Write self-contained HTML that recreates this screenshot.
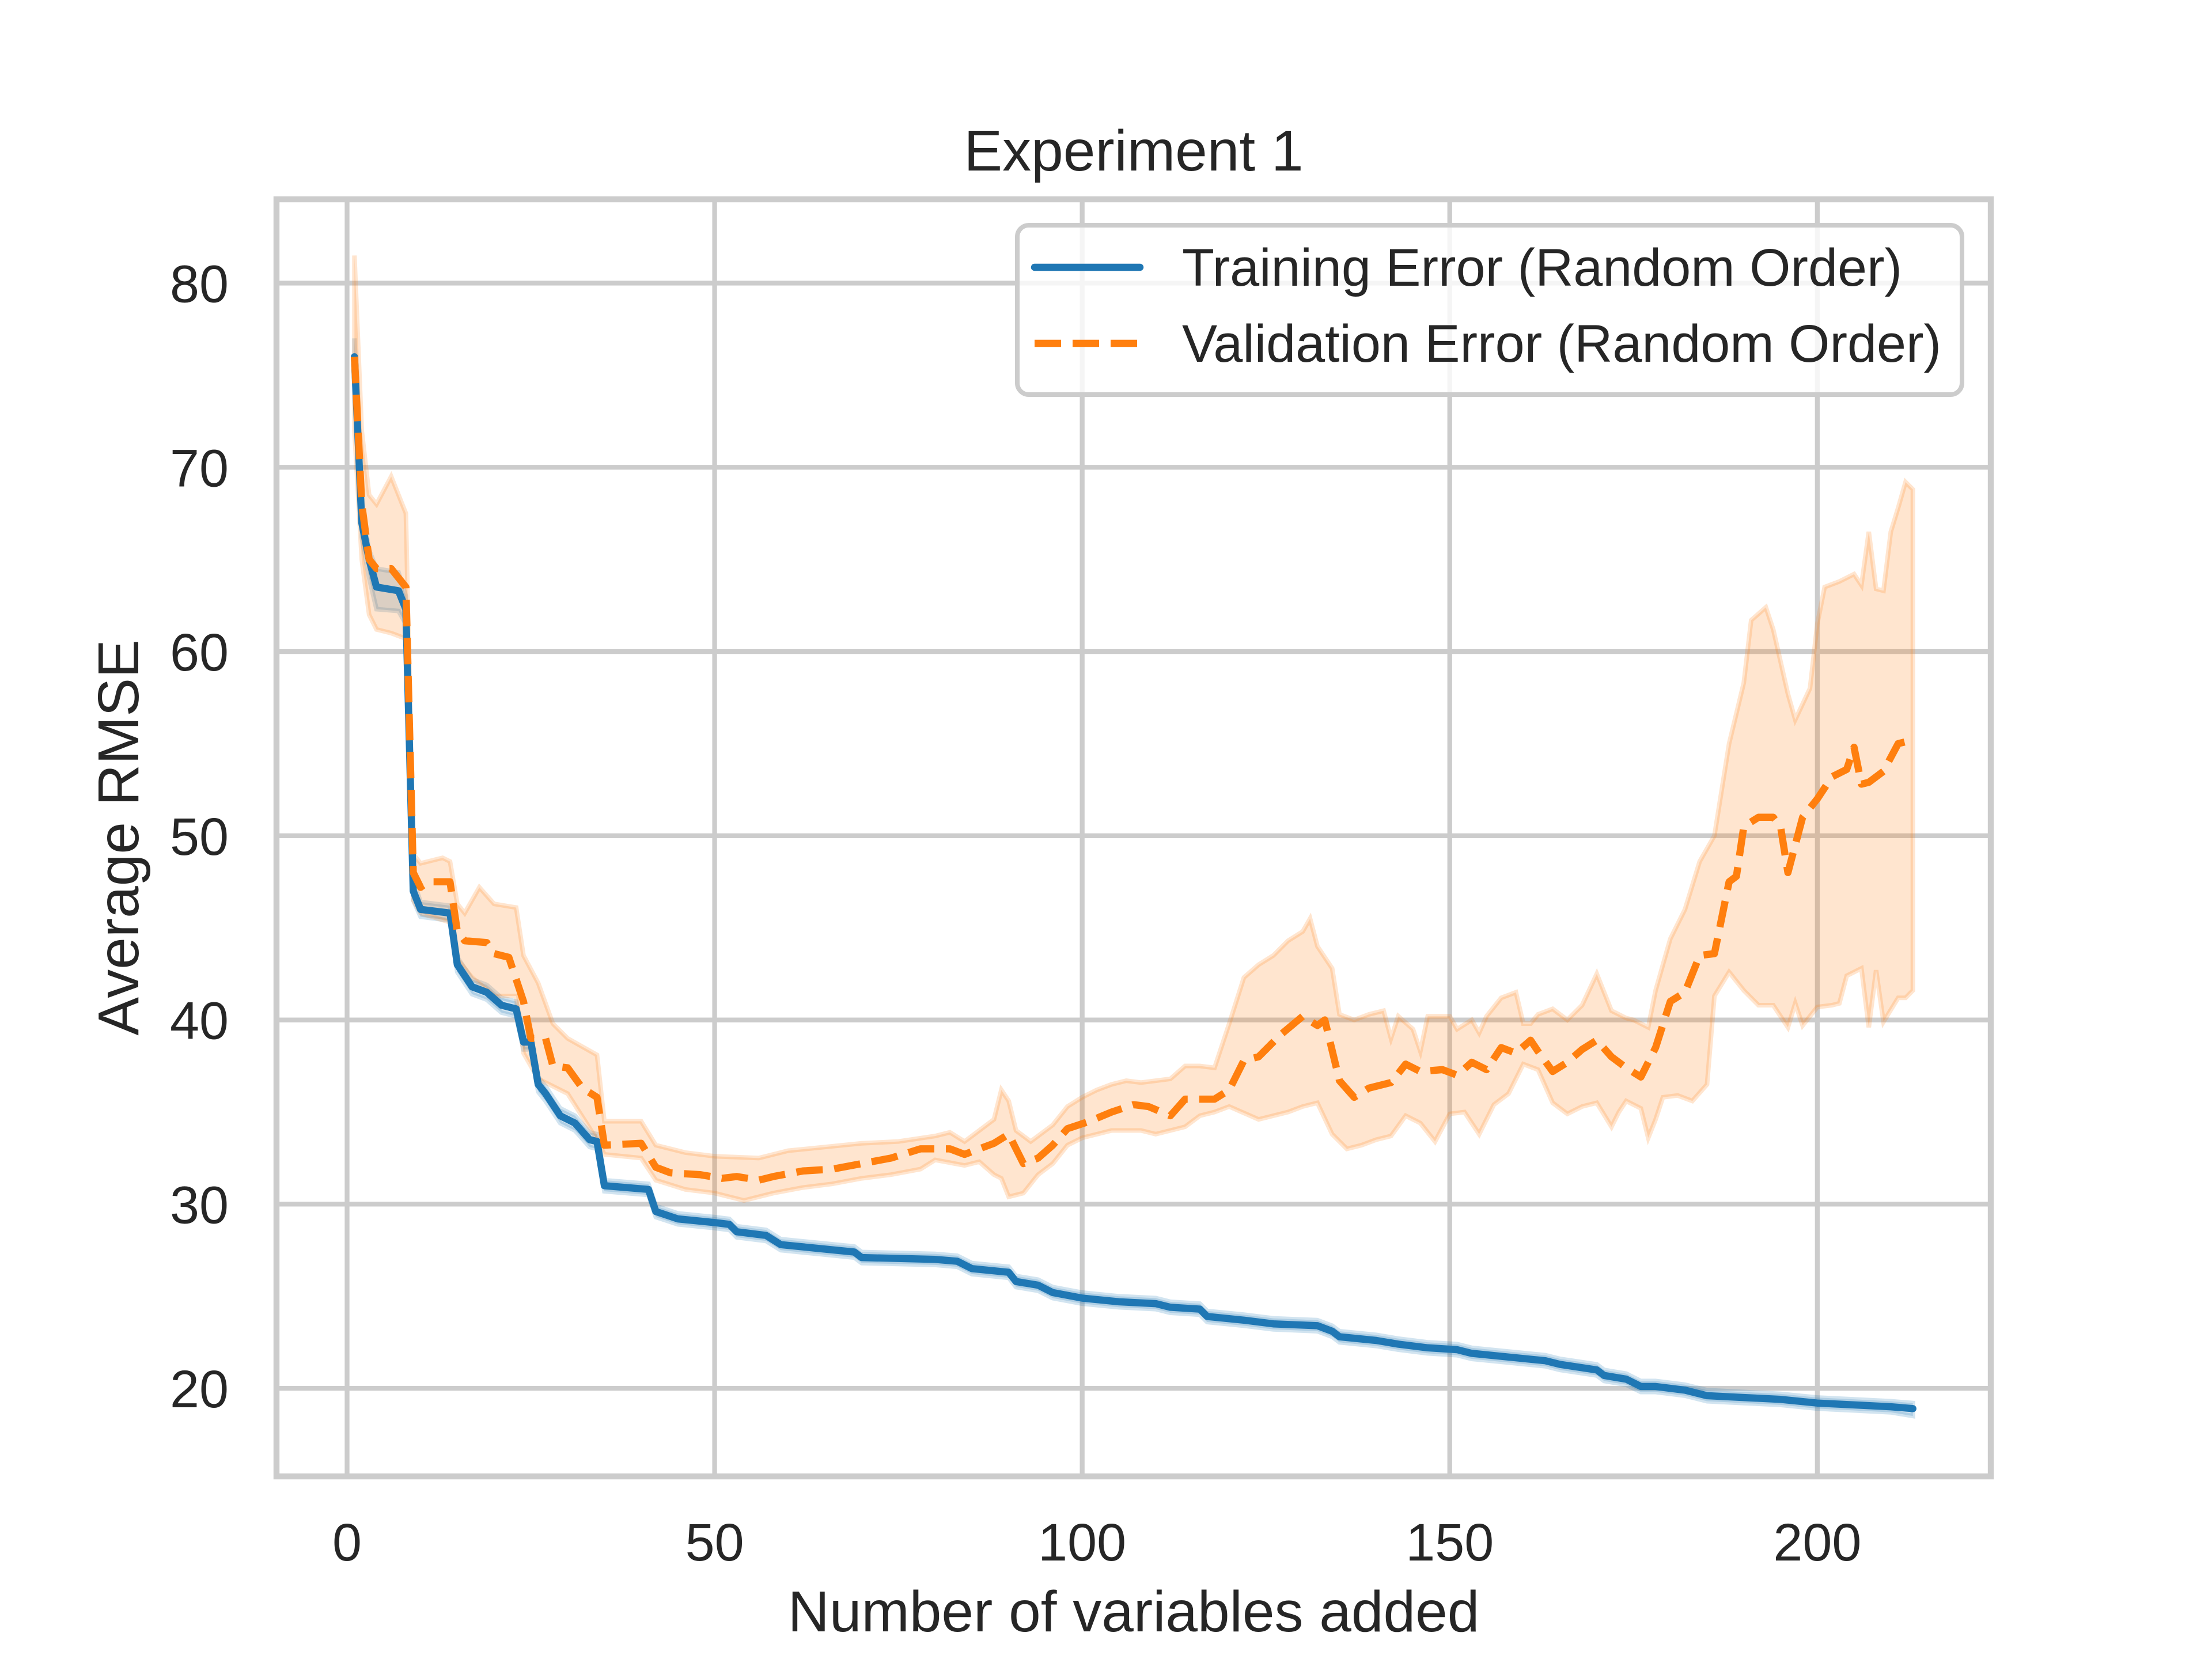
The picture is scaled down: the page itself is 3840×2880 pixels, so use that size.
<!DOCTYPE html>
<html><head><meta charset="utf-8"><style>
html,body{margin:0;padding:0;background:#fff}
svg{display:block}
text{font-family:"Liberation Sans",Arial,sans-serif;fill:#262626}
</style></head><body>
<svg id="chart" width="3840" height="2880" viewBox="0 0 3840 2880" xmlns="http://www.w3.org/2000/svg">
<rect width="3840" height="2880" fill="#fff"/>
<g id="grid"></g>
<g id="bands"></g>
<g id="lines"></g>
<rect x="480" y="346" width="2976" height="2217" fill="none" stroke="#cccccc" stroke-width="10.4"/>
<g id="ticks"></g>
<text x="1968" y="296" font-size="100" text-anchor="middle">Experiment 1</text>
<text x="1968" y="2832" font-size="100" text-anchor="middle">Number of variables added</text>
<text x="240" y="1454" font-size="100" text-anchor="middle" transform="rotate(-90 240 1454)">Average RMSE</text>
<g>
<rect x="1766" y="391" width="1640" height="294" rx="20" fill="#fff" fill-opacity="0.8" stroke="#cccccc" stroke-width="8"/>
<line x1="1796" y1="464" x2="1979" y2="464" stroke="#1f77b4" stroke-width="12.5" stroke-linecap="round"/>
<text x="2052" y="496" font-size="91.7">Training Error (Random Order)</text>
<line x1="1796" y1="596" x2="1979" y2="596" stroke="#ff7f0e" stroke-width="12.5" stroke-dasharray="46,20"/>
<text x="2052" y="628" font-size="91.7">Validation Error (Random Order)</text>
</g>
</svg>
<script>
const xTicks=[0,50,100,150,200];
const yTicks=[20,30,40,50,60,70,80];
const trainX=[1,2,3,4,7,8,9,10,14,15,17,19,21,23,24,25,26,27,29,31,33,34,35,41,42,45,50,52,53,57,59,64,69,70,80,83,85,90,91,94,96,100,105,110,112,116,117,122,126,132,134,135,140,143,147,151,153,158,163,165,170,171,174,176,178,182,185,190,195,200,205,210,213];
const trainY=[76,67,65,63.5,63.3,62.3,47,46,45.8,43,41.8,41.5,40.8,40.6,38.8,38.8,36.5,36,34.8,34.4,33.5,33.4,31,30.8,29.6,29.2,29.0,28.9,28.5,28.3,27.8,27.6,27.4,27.1,27.0,26.9,26.5,26.3,25.8,25.6,25.2,24.9,24.7,24.6,24.4,24.3,23.9,23.7,23.5,23.4,23.1,22.8,22.6,22.4,22.2,22.1,21.9,21.7,21.5,21.3,21.0,20.7,20.5,20.1,20.1,19.9,19.6,19.5,19.4,19.2,19.1,19.0,18.9];
const trainHi=[77,67.8,65.5,64.5,64.3,63,47.6,46.4,46.2,43.4,42.2,41.9,41.2,41,39.2,39.2,36.9,36.4,35.2,34.8,33.9,33.8,31.3,31.1,29.9,29.5,29.3,29.2,28.8,28.6,28.1,27.9,27.7,27.4,27.3,27.2,26.8,26.6,26.1,25.9,25.5,25.2,25.0,24.9,24.7,24.6,24.2,24.0,23.8,23.7,23.4,23.1,22.9,22.7,22.5,22.4,22.2,22.0,21.8,21.6,21.3,21.0,20.8,20.4,20.4,20.2,19.9,19.8,19.7,19.5,19.4,19.3,19.2];
const trainLo=[75,66.2,64,62.3,62.2,61.5,46.5,45.6,45.4,42.6,41.4,41.1,40.4,40.2,38.4,38.4,36.1,35.6,34.4,34.0,33.1,33.0,30.7,30.5,29.3,28.9,28.7,28.6,28.2,28.0,27.5,27.3,27.1,26.8,26.7,26.6,26.2,26.0,25.5,25.3,24.9,24.6,24.4,24.3,24.1,24.0,23.6,23.4,23.2,23.1,22.8,22.5,22.3,22.1,21.9,21.8,21.6,21.4,21.2,21.0,20.7,20.4,20.2,19.8,19.8,19.6,19.3,19.2,19.1,18.9,18.8,18.7,18.5];
const valX=[1,2,3,4,6,7,8,9,10,11,14,15,16,19,20,22,24,25,27,28,30,32,34,35,40,42,44,48,51,53,56,58,62,66,70,74,78,82,84,88,90,92,94,96,98,101,104,107,109,112,114,118,120,122,124,127,130,132,133,135,137,139,142,144,146,149,151,153,155,157,159,161,162,164,166,168,170,172,174,176,178,180,182,184,186,188,189,190,192,194,195,196,198,200,202,204,205,206,207,209,211,213];
const valY=[76,68,65,64.5,64.5,64,63.5,48,47.2,47.5,47.5,44.8,44.3,44.2,43.6,43.4,41,39,39,37.5,37.4,36.3,35.8,33.2,33.3,32,31.7,31.6,31.4,31.5,31.3,31.5,31.8,31.9,32.2,32.5,33,33,32.7,33.3,33.8,32.2,32.5,33.2,34.1,34.5,35,35.4,35.3,34.8,35.7,35.7,36.2,37.8,38,39.2,40.2,39.7,40,36.7,35.8,36.3,36.6,37.6,37.2,37.3,37,37.7,37.3,38.5,38.2,38.9,38.3,37.2,37.7,38.4,38.9,38.0,37.4,36.9,38.5,41,41.5,43.5,43.6,47.5,47.8,50.5,51,51,50.5,48,51,52,53.2,53.6,54.8,52.8,52.9,53.5,55,55.2];
const hiX=[1,2,3,4,6,8,9,10,13,14,15,16,18,20,23,24,26,28,30,34,35,40,42,46,50,56,60,65,70,75,80,82,84,86,88,89,90,91,93,96,98,100,102,104,106,108,110,112,114,116,118,120,122,124,126,128,130,131,132,134,135,137,139,141,142,143,145,146,147,150,151,153,154,155,157,159,160,161,162,164,166,168,170,172,174,175,177,178,180,182,184,186,188,190,191,193,194,196,197,199,200,201,203,205,206,207,208,209,210,211,212,213];
const hiY=[81.5,72,68.5,68,69.5,67.5,49,48.5,48.8,48.6,46.3,45.8,47.2,46.3,46.1,43.5,42,39.8,39,38.1,34.5,34.5,33.2,32.8,32.6,32.5,32.9,33.1,33.3,33.4,33.7,33.9,33.4,34,34.6,36.2,35.6,34,33.4,34.3,35.3,35.8,36.2,36.5,36.7,36.6,36.7,36.8,37.5,37.5,37.4,39.8,42.3,43,43.5,44.3,44.8,45.5,44,42.8,40.3,40,40.3,40.5,39,40.2,39.5,38.3,40.2,40.2,39.5,40,39.3,40.2,41.2,41.5,39.8,39.8,40.3,40.6,40,40.8,42.5,40.5,40.1,40,39.6,41.6,44.4,46,48.6,50,55,58.3,61.7,62.4,61.2,57.7,56.3,58,61.5,63.5,63.8,64.2,63.6,66.5,63.4,63.3,66.5,67.8,69.2,68.8];
const loX=[1,2,3,4,6,8,9,10,14,15,17,20,23,24,26,28,30,34,35,40,42,46,50,54,58,62,66,70,74,78,80,84,86,88,89,90,92,94,96,98,100,104,108,110,112,114,116,118,120,124,126,128,130,132,134,136,138,140,142,144,146,148,150,152,154,156,158,160,162,164,166,168,170,172,173,174,176,177,178,179,181,183,185,186,188,190,192,194,196,197,198,200,202,203,204,206,207,208,209,211,212,213];
const loY=[72,65,62,61.2,61,60.7,46.5,45.8,45.3,43.3,42.3,41.3,41.3,38.2,36.8,36.4,36,33.5,32.7,32.5,31.3,30.8,30.6,30.2,30.6,30.9,31.1,31.4,31.6,31.9,32.4,32.1,32.3,31.6,31.4,30.4,30.6,31.6,32.2,33.2,33.6,34,34,33.8,34,34.2,34.8,35,35.3,34.6,34.8,35,35.3,35.5,33.8,33,33.2,33.5,33.7,34.8,34.4,33.4,34.9,35,33.8,35.4,36,37.6,37.3,35.5,34.9,35.3,35.5,34.2,35,35.6,35.2,33.6,34.6,35.8,35.9,35.6,36.5,41.3,42.6,41.6,40.8,40.8,39.6,40.9,39.7,40.7,40.8,40.9,42.4,42.8,39.6,42.7,39.9,41.2,41.2,41.6];

const X0=-9.6,X1=223.6,Y0=15.22,Y1=84.55;
const PL=480,PR=3456,PT=346,PB=2563;
function sx(v){return PL+(v-X0)/(X1-X0)*(PR-PL);}
function sy(v){return PB-(v-Y0)/(Y1-Y0)*(PB-PT);}
const NS='http://www.w3.org/2000/svg';
function mk(tag,attrs,parent){const e=document.createElementNS(NS,tag);for(const k in attrs)e.setAttribute(k,attrs[k]);parent.appendChild(e);return e;}
function pts(xs,ys){return xs.map((x,i)=>sx(x).toFixed(1)+','+sy(ys[i]).toFixed(1));}

const grid=document.getElementById('grid');
xTicks.forEach(t=>{
  const l=mk('line',{x1:sx(t),x2:sx(t),y1:PT,y2:PB,stroke:'#cccccc','stroke-width':8.3},grid);
  
  
});
yTicks.forEach(t=>{
  const l=mk('line',{x1:PL,x2:PR,y1:sy(t),y2:sy(t),stroke:'#cccccc','stroke-width':8.3},grid);
  
  
});
const ticks=document.getElementById('ticks');
xTicks.forEach(t=>{
  const e=mk('text',{x:sx(t),y:2709,'font-size':91.7,'text-anchor':'middle'},ticks);
  e.textContent=t;
  
  
});
yTicks.forEach(t=>{
  const e=mk('text',{x:397,y:sy(t)+33,'font-size':91.7,'text-anchor':'end'},ticks);
  e.textContent=t;
  
  
});

const bands=document.getElementById('bands');
const tb=mk('polygon',{points:pts(trainX,trainHi).concat(pts(trainX,trainLo).reverse()).join(' '),fill:'#1f77b4','fill-opacity':0.2,stroke:'#1f77b4','stroke-opacity':0.2,'stroke-width':8},bands);


const vb=mk('polygon',{points:pts(hiX,hiY).concat(pts(loX,loY).reverse()).join(' '),fill:'#ff7f0e','fill-opacity':0.2,stroke:'#ff7f0e','stroke-opacity':0.2,'stroke-width':8},bands);



const lines=document.getElementById('lines');
const tl=mk('polyline',{points:pts(trainX,trainY).join(' '),fill:'none',stroke:'#1f77b4','stroke-width':12.5,'stroke-linejoin':'round','stroke-linecap':'round'},lines);


const vl=mk('polyline',{points:pts(valX,valY).join(' '),fill:'none',stroke:'#ff7f0e','stroke-width':12.5,'stroke-dasharray':'46,20','stroke-linejoin':'round'},lines);


</script>
</body></html>
